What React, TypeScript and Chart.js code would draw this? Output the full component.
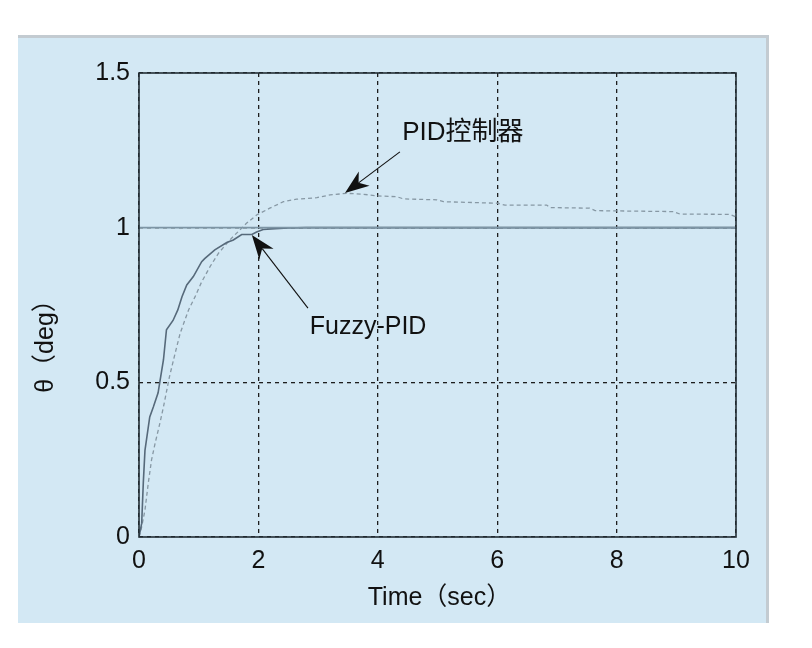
import { useEffect, useRef } from 'react';
import { Chart, registerables, Plugin } from 'chart.js';

Chart.register(...registerables);

// Step response (time in sec, angle normalised)
const fuzzyTime = [0, 0.045, 0.072, 0.1, 0.18, 0.24, 0.32, 0.35, 0.41, 0.46, 0.57, 0.65, 0.72, 0.8, 0.91, 1.05, 1.1, 1.27, 1.47, 1.58, 1.72, 1.89, 1.97, 2.08, 2.28, 2.5, 2.8, 10];
const fuzzyValue = [0, 0.044, 0.175, 0.28, 0.388, 0.42, 0.466, 0.502, 0.573, 0.67, 0.7, 0.734, 0.777, 0.815, 0.842, 0.89, 0.9, 0.928, 0.952, 0.96, 0.978, 0.978, 0.986, 0.994, 0.997, 0.999, 1.0, 1.0];

const pidTime = [0, 0.045, 0.1, 0.156, 0.21, 0.27, 0.35, 0.41, 0.51, 0.6, 0.69, 0.83, 0.94, 1.05, 1.19, 1.33, 1.52, 1.66, 1.8, 1.97, 2.19, 2.42, 2.64, 2.98, 3.2, 3.48, 3.76, 3.98, 4.32, 4.43, 4.99, 5.1, 6.01, 6.13, 6.83, 6.88, 7.55, 7.64, 8.95, 9.06, 9.9, 10];
const pidValue = [0, 0.033, 0.087, 0.175, 0.249, 0.303, 0.368, 0.421, 0.518, 0.59, 0.659, 0.734, 0.777, 0.825, 0.874, 0.917, 0.96, 0.987, 1.014, 1.041, 1.063, 1.084, 1.092, 1.097, 1.106, 1.111, 1.108, 1.103, 1.1, 1.093, 1.09, 1.084, 1.079, 1.073, 1.073, 1.065, 1.063, 1.055, 1.052, 1.044, 1.043, 1.035];

const refTime = [0, 10];
const refValue = [1, 1];

const xTicks = [0, 2, 4, 6, 8, 10];
const yTicks = [0, 0.5, 1, 1.5];
const yTickLabels = ['0', '0.5', '1', '1.5'];

const xTitle = 'Time（sec）';
const yTitle = 'θ（deg）';

// labels with arrows, in data units
const notes = [
  { text: 'PID控制器', size: 26, tx: 4.41, ty: 1.306, fromX: 4.37, fromY: 1.245, toX: 3.45, toY: 1.112 },
  { text: 'Fuzzy-PID', size: 25, tx: 2.86, ty: 0.679, fromX: 2.83, fromY: 0.74, toX: 1.89, toY: 0.976 },
];

const FONT = '"Liberation Sans", Arial, "Noto Sans CJK SC", sans-serif';

const toXY = (xs: number[], ys: number[]) => xs.map((x, i) => ({ x, y: ys[i] }));

const decor: Plugin = {
  id: 'decor',
  beforeDraw(chart) {
    const { ctx, width, height } = chart;
    ctx.save();
    ctx.fillStyle = '#ffffff';
    ctx.fillRect(0, 0, width, height);
    ctx.fillStyle = '#d3e8f4';
    ctx.fillRect(18, 35, 750, 588);
    ctx.strokeStyle = '#c3cbd1';
    ctx.lineWidth = 3;
    ctx.beginPath();
    ctx.moveTo(18, 36.5);
    ctx.lineTo(767.5, 36.5);
    ctx.lineTo(767.5, 623);
    ctx.stroke();
    ctx.restore();
  },
  afterDatasetsDraw(chart) {
    const { ctx, chartArea: a, scales } = chart;
    const sx = scales.x;
    const sy = scales.y;
    ctx.save();
    // axes box
    ctx.strokeStyle = '#222d35';
    ctx.lineWidth = 1.6;
    ctx.setLineDash([]);
    ctx.strokeRect(a.left, a.top, a.right - a.left, a.bottom - a.top);

    // annotations
    ctx.fillStyle = '#111';
    ctx.strokeStyle = '#111';
    ctx.textBaseline = 'middle';
    ctx.textAlign = 'left';
    notes.forEach((n) => {
      ctx.font = `${n.size}px ${FONT}`;
      ctx.fillText(n.text, sx.getPixelForValue(n.tx), sy.getPixelForValue(n.ty));
      const x0 = sx.getPixelForValue(n.fromX);
      const y0 = sy.getPixelForValue(n.fromY);
      const x1 = sx.getPixelForValue(n.toX);
      const y1 = sy.getPixelForValue(n.toY);
      const len = Math.hypot(x1 - x0, y1 - y0);
      const ux = (x1 - x0) / len;
      const uy = (y1 - y0) / len;
      const px = -uy;
      const py = ux;
      const L = 24;
      const W = 9;
      const back = 7;
      ctx.lineWidth = 1.1;
      ctx.beginPath();
      ctx.moveTo(x0, y0);
      ctx.lineTo(x1 - ux * (L - back), y1 - uy * (L - back));
      ctx.stroke();
      ctx.beginPath();
      ctx.moveTo(x1, y1);
      ctx.lineTo(x1 - ux * L + px * W, y1 - uy * L + py * W);
      ctx.lineTo(x1 - ux * (L - back), y1 - uy * (L - back));
      ctx.lineTo(x1 - ux * L - px * W, y1 - uy * L - py * W);
      ctx.closePath();
      ctx.fill();
    });

    // axis titles
    ctx.font = `25px ${FONT}`;
    ctx.textAlign = 'center';
    ctx.fillText(xTitle, (a.left + a.right) / 2 + 2, 598);
    ctx.translate(46, 340);
    ctx.rotate(-Math.PI / 2);
    ctx.fillText(yTitle, 0, 0);
    ctx.restore();
  },
};

export default function App() {
  const canvasRef = useRef<HTMLCanvasElement>(null);
  const chartRef = useRef<Chart | null>(null);

  useEffect(() => {
    if (!canvasRef.current) return;
    if (chartRef.current) chartRef.current.destroy();

    chartRef.current = new Chart(canvasRef.current, {
      type: 'scatter',
      data: {
        datasets: [
          {
            label: 'ref',
            data: toXY(refTime, refValue),
            showLine: true,
            borderColor: '#7d95a5',
            borderWidth: 1.6,
            pointRadius: 0,
          },
          {
            label: 'Fuzzy-PID',
            data: toXY(fuzzyTime, fuzzyValue),
            showLine: true,
            borderColor: '#56697a',
            borderWidth: 1.6,
            pointRadius: 0,
          },
          {
            label: 'PID',
            data: toXY(pidTime, pidValue),
            showLine: true,
            borderColor: '#8798a4',
            borderWidth: 1.3,
            borderDash: [4, 3],
            pointRadius: 0,
          },
        ],
      },
      options: {
        animation: false,
        responsive: true,
        maintainAspectRatio: false,
        layout: { padding: { left: 0, top: 73, right: 76, bottom: 0 } },
        plugins: {
          legend: { display: false },
          tooltip: { enabled: false },
        },
        scales: {
          x: {
            type: 'linear',
            min: 0,
            max: 10,
            afterFit: (scale) => {
              scale.height = 111;
            },
            afterBuildTicks: (scale) => {
              scale.ticks = xTicks.map((value) => ({ value }));
            },
            ticks: {
              autoSkip: false,
              maxRotation: 0,
              padding: 9,
              color: '#111',
              font: { family: FONT, size: 25 },
              callback: (v) => String(v),
            },
            grid: { color: '#1e1e1e', lineWidth: 1.3, drawTicks: false },
            border: { display: false, dash: [4, 4] },
          },
          y: {
            type: 'linear',
            min: 0,
            max: 1.5,
            afterFit: (scale) => {
              scale.width = 139;
            },
            afterBuildTicks: (scale) => {
              scale.ticks = yTicks.map((value) => ({ value }));
            },
            ticks: {
              autoSkip: false,
              padding: 9,
              color: '#111',
              font: { family: FONT, size: 25 },
              callback: (v) => {
                const i = yTicks.indexOf(Number(v));
                return i >= 0 ? yTickLabels[i] : '';
              },
            },
            grid: { color: '#1e1e1e', lineWidth: 1.3, drawTicks: false },
            border: { display: false, dash: [4, 4] },
          },
        },
      },
      plugins: [decor],
    });

    return () => {
      if (chartRef.current) {
        chartRef.current.destroy();
        chartRef.current = null;
      }
    };
  }, []);

  return (
    <div style={{ position: 'absolute', left: 0, top: 0, width: 812, height: 648 }}>
      <canvas ref={canvasRef} />
    </div>
  );
}
